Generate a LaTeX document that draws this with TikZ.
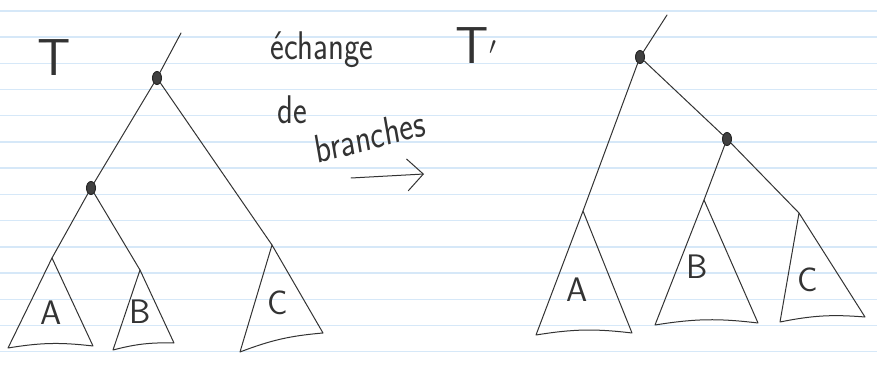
\documentclass[tikz,border=0pt]{standalone}
\usetikzlibrary{arrows.meta,shapes.geometric}
\definecolor{ruling}{RGB}{214,232,248}
\tikzset{
  pen/.style={draw=black!80, line width=1pt, line cap=round, line join=round},
  knot/.style={ellipse, draw=black!85, fill=black!75, line width=1pt, inner sep=0pt,
    minimum width=9pt, minimum height=13pt},
  letter/.style={font=\sffamily\fontsize{34}{34}\selectfont, text=black!80, inner sep=0pt},
  title/.style={font=\sffamily\fontsize{52}{52}\selectfont, text=black!80, inner sep=0pt},
  words/.style={font=\sffamily\fontsize{40}{40}\selectfont, text=black!80, inner sep=0pt,
    xscale=0.82, transform shape},
}
\begin{document}
\begin{tikzpicture}[x=1pt,y=-1pt]
    % lined paper
    \fill[white] (0,0) rectangle (877,366);
    \useasboundingbox (0,0) rectangle (877,366);
    \foreach \k in {0,...,13}
        \draw[ruling, line width=1.4pt] (0,11+26.2*\k) -- (877,11+26.2*\k);
    % Tree T
    \node[title] (T1) at (54,58) {T};
    \node[knot] (r1) at (157,78) {};
    \node[knot] (u1) at (91,188) {};
    \coordinate (top1) at (181,33);
    \coordinate (a1) at (52,258);
    \coordinate (b1) at (140,270);
    \coordinate (c1) at (272,245);
    \draw[pen] (r1) -- (top1);
    \draw[pen] (r1) -- (u1);
    \draw[pen] (r1) -- (c1);
    \draw[pen] (u1) -- (a1);
    \draw[pen] (u1) -- (b1);
    \foreach \t/\lx/\ly/\rx/\ry in {a1/8/348/93/346, b1/113/350/174/343, c1/240/352/323/333}
        \draw[pen] (\t) -- (\lx,\ly) to[bend left=8] (\rx,\ry) -- cycle;
    \node[letter] (A1) at (51,313) {A};
    \node[letter] (B1) at (140,312) {B};
    \node[letter] (C1) at (278,303) {C};
    % swap label
    \node[words] (w1) at (322,50) {échange};
    \node[words] (w2) at (292,110) {de};
    \node[words, rotate=12] (w3) at (370,136) {branches};
    \coordinate (arr1) at (351,178);
    \coordinate (arr2) at (424,174);
    \draw[pen, -{Straight Barb[length=16pt,width=32pt]}] (arr1) -- (arr2);
    % Tree T'
    \node[title] (T2) at (476,46) {T$'$};
    \node[knot] (r2) at (640,57) {};
    \node[knot] (u2) at (727,139) {};
    \coordinate (top2) at (667,15);
    \coordinate (a2) at (583,211);
    \coordinate (b2) at (704,200);
    \coordinate (c2) at (799,213);
    \draw[pen] (r2) -- (top2);
    \draw[pen] (r2) -- (u2);
    \draw[pen] (r2) -- (a2);
    \draw[pen] (u2) -- (b2);
    \draw[pen] (u2) -- (c2);
    \foreach \t/\lx/\ly/\rx/\ry in {a2/536/335/632/333, b2/655/325/758/323, c2/780/322/865/317}
        \draw[pen] (\t) -- (\lx,\ly) to[bend left=8] (\rx,\ry) -- cycle;
    \node[letter] (A2) at (577,290) {A};
    \node[letter] (B2) at (697,267) {B};
    \node[letter] (C2) at (808,280) {C};
\end{tikzpicture}
\end{document}
